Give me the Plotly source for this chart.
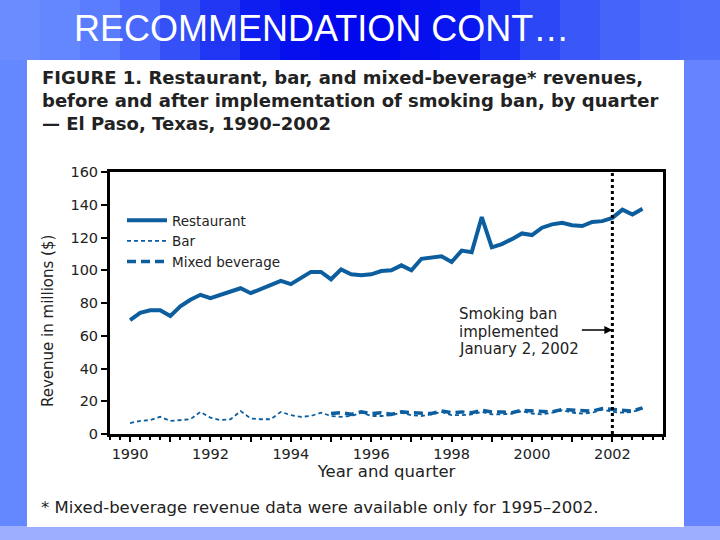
import plotly.graph_objects as go

# ---------------- data ----------------
years = list(range(1990, 2003))
quarters_per_year = 4
restaurant = [69.6, 74, 75.5, 75.5, 72, 78, 82, 85, 83, 85, 87.5, 89, 86, 88.5, 91, 93.5,
              91.5, 95, 99, 99, 94.5, 100.5, 97.5, 97, 97.5, 99.5, 100, 103, 100, 107, 107.5, 108.5,
              105, 112, 111, 132.5, 114, 116, 119, 122.5, 121.5, 126, 128, 129, 127.5, 127, 129.5, 130,
              132, 137, 134, 137.5]
bar = [6.7, 8, 8.5, 10.5, 8, 8.5, 9, 13.5, 10, 8.5, 9, 14, 9.5, 9, 9, 13.5,
       11.5, 10.5, 11, 13, 11, 10.5, 11, 13, 11, 11, 11.5, 13, 11.5, 11, 12, 13.5,
       11.5, 11.5, 12, 13.5, 12, 12, 12.5, 14, 12.5, 12, 13, 14.5, 13, 12.5, 13, 15,
       13.5, 13, 13.5, 15.5]
mixed = [None] * 20 + [12.5, 13, 12, 13.5, 12.5, 13, 12, 13.5, 13, 13, 12.5, 14,
                       13, 13.5, 13, 14.5, 13.5, 13.5, 13, 14.5, 14, 14, 13.5, 15,
                       14.5, 14.5, 14, 15.5, 15, 14.5, 14, 16]
x_quarters = [y + q / quarters_per_year for y in years for q in range(quarters_per_year)]
tick_years = list(range(1990, 2003))
tick_text = [str(y) if y % 2 == 0 else "" for y in tick_years]
y_ticks = [0, 20, 40, 60, 80, 100, 120, 140, 160]
ban_date = 2002.0

slide_title = "RECOMMENDATION CONT…"
figure_title_lines = ["FIGURE 1. Restaurant, bar, and mixed-beverage* revenues,",
                      "before and after implementation of smoking ban, by quarter",
                      "— El Paso, Texas, 1990–2002"]
ban_note_lines = ["Smoking ban", "implemented", "January 2, 2002"]
footnote = "* Mixed-beverage revenue data were available only for 1995–2002."
y_title = "Revenue in millions ($)"
x_title = "Year and quarter"

# ---------------- layout helpers ----------------
W, H = 720, 540
L, R, T, B = 110, 57, 172, 106
PW, PH = W - L - R, H - T - B


def xp(px):
    return (px - L) / PW


def yp(py):
    return (H - B - py) / PH


LINE = "#0d5e9e"
TXT = "#222222"
FONT = "DejaVu Sans, Verdana, sans-serif"
TFONT = "Liberation Sans, Arial, sans-serif"

fig = go.Figure()
fig.add_trace(go.Scatter(x=x_quarters, y=restaurant, mode="lines", name="Restaurant",
                         line=dict(color=LINE, width=4)))
fig.add_trace(go.Scatter(x=x_quarters, y=bar, mode="lines", name="Bar",
                         line=dict(color=LINE, width=1.8, dash="4px,3px")))
fig.add_trace(go.Scatter(x=x_quarters, y=mixed, mode="lines", name="Mixed beverage",
                         line=dict(color=LINE, width=3.5, dash="9px,5px"), connectgaps=False))

shapes = []
# background gradient bands (slide)
bands = ["#6a8cff", "#6486ff", "#5a7cff", "#4a68fb", "#3550f6", "#2036f2", "#0f1ef0",
         "#0610ee", "#0208ee", "#0208ee", "#0610ee", "#0a16ef", "#1a30f2", "#2c48f6",
         "#3a58f8", "#4464fa", "#4c6cfb", "#5070fc"]
n = len(bands)
for i, c in enumerate(bands):
    shapes.append(dict(type="rect", xref="paper", yref="paper", layer="below",
                       x0=xp(i * W / n), x1=xp((i + 1) * W / n + 1), y0=yp(H), y1=yp(0),
                       fillcolor=c, line=dict(width=0)))
# side strips
shapes.append(dict(type="rect", xref="paper", yref="paper", layer="below",
                   x0=xp(0), x1=xp(30), y0=yp(H), y1=yp(60), fillcolor="#6488ff", line=dict(width=0)))
shapes.append(dict(type="rect", xref="paper", yref="paper", layer="below",
                   x0=xp(680), x1=xp(W), y0=yp(H), y1=yp(60), fillcolor="#6684ff", line=dict(width=0)))
shapes.append(dict(type="rect", xref="paper", yref="paper", layer="below",
                   x0=xp(0), x1=xp(W), y0=yp(H), y1=yp(526), fillcolor="#9dadff", line=dict(width=0)))
# white panel
shapes.append(dict(type="rect", xref="paper", yref="paper", layer="below",
                   x0=xp(27), x1=xp(684), y0=yp(527), y1=yp(60), fillcolor="white", line=dict(width=0)))
# smoking ban dotted line
shapes.append(dict(type="line", xref="x", yref="y", x0=ban_date, x1=ban_date, y0=0, y1=160,
                   line=dict(color="black", width=3, dash="dot")))

annotations = [
    dict(xref="paper", yref="paper", x=xp(72), y=yp(28), xanchor="left", yanchor="middle",
         text=slide_title, showarrow=False,
         font=dict(family=TFONT, size=36, color="white")),
    dict(xref="paper", yref="paper", x=xp(48), y=yp(321), xanchor="center", yanchor="middle",
         text=y_title, textangle=-90, showarrow=False,
         font=dict(family=FONT, size=15, color=TXT)),
]
for i, line in enumerate(figure_title_lines):
    annotations.append(dict(xref="paper", yref="paper", x=xp(40), y=yp(77 + 23 * i),
                            xanchor="left", yanchor="middle", text="<b>" + line + "</b>",
                            showarrow=False, font=dict(family=FONT, size=18, color=TXT)))
for i, line in enumerate(ban_note_lines):
    annotations.append(dict(xref="paper", yref="paper", x=xp(457), y=yp(314 + 17.5 * i),
                            xanchor="left", yanchor="middle", text=line,
                            showarrow=False, font=dict(family=FONT, size=15, color=TXT)))
annotations += [
    dict(xref="x", yref="y", x=ban_date, y=63.5, ax=-32, ay=0, text="", showarrow=True,
         arrowhead=2, arrowsize=1, arrowwidth=1.6, arrowcolor="black"),
    dict(xref="paper", yref="paper", x=xp(39), y=yp(507), xanchor="left", yanchor="middle",
         text=footnote, showarrow=False,
         font=dict(family=FONT, size=16.5, color=TXT)),
]

fig.update_layout(
    width=W, height=H,
    margin=dict(l=L, r=R, t=T, b=B, pad=0),
    paper_bgcolor="#3a5cf5",
    plot_bgcolor="white",
    font=dict(family=FONT, color=TXT, size=14),
    shapes=shapes,
    annotations=annotations,
    showlegend=True,
    legend=dict(x=xp(122), y=yp(205), xanchor="left", yanchor="top",
                bgcolor="rgba(0,0,0,0)", font=dict(size=13.5, color=TXT),
                tracegroupgap=0, itemwidth=40),
    xaxis=dict(range=[1989.5, 2003.26], tickvals=tick_years, ticktext=tick_text,
               ticks="outside", ticklen=5, tickwidth=2, tickcolor="black",
               minor=dict(dtick=0.25, tick0=1990, ticks="outside", ticklen=3, tickwidth=1.5,
                          tickcolor="black", showgrid=False),
               showline=True, linecolor="black", linewidth=3, mirror=True,
               showgrid=False, zeroline=False,
               tickfont=dict(size=14.5, color=TXT),
               title=dict(text=x_title, font=dict(size=16.5, color=TXT), standoff=2)),
    yaxis=dict(range=[0, 160], tickvals=y_ticks, ticks="outside", ticklen=6, tickwidth=2,
               tickcolor="black", showline=True, linecolor="black", linewidth=3, mirror=True,
               showgrid=False, zeroline=False,
               tickfont=dict(size=14.5, color=TXT)),
)

fig.write_html("out.html", config={"displayModeBar": False},
               post_script="document.body.style.margin='0px';document.body.style.padding='0px';")
